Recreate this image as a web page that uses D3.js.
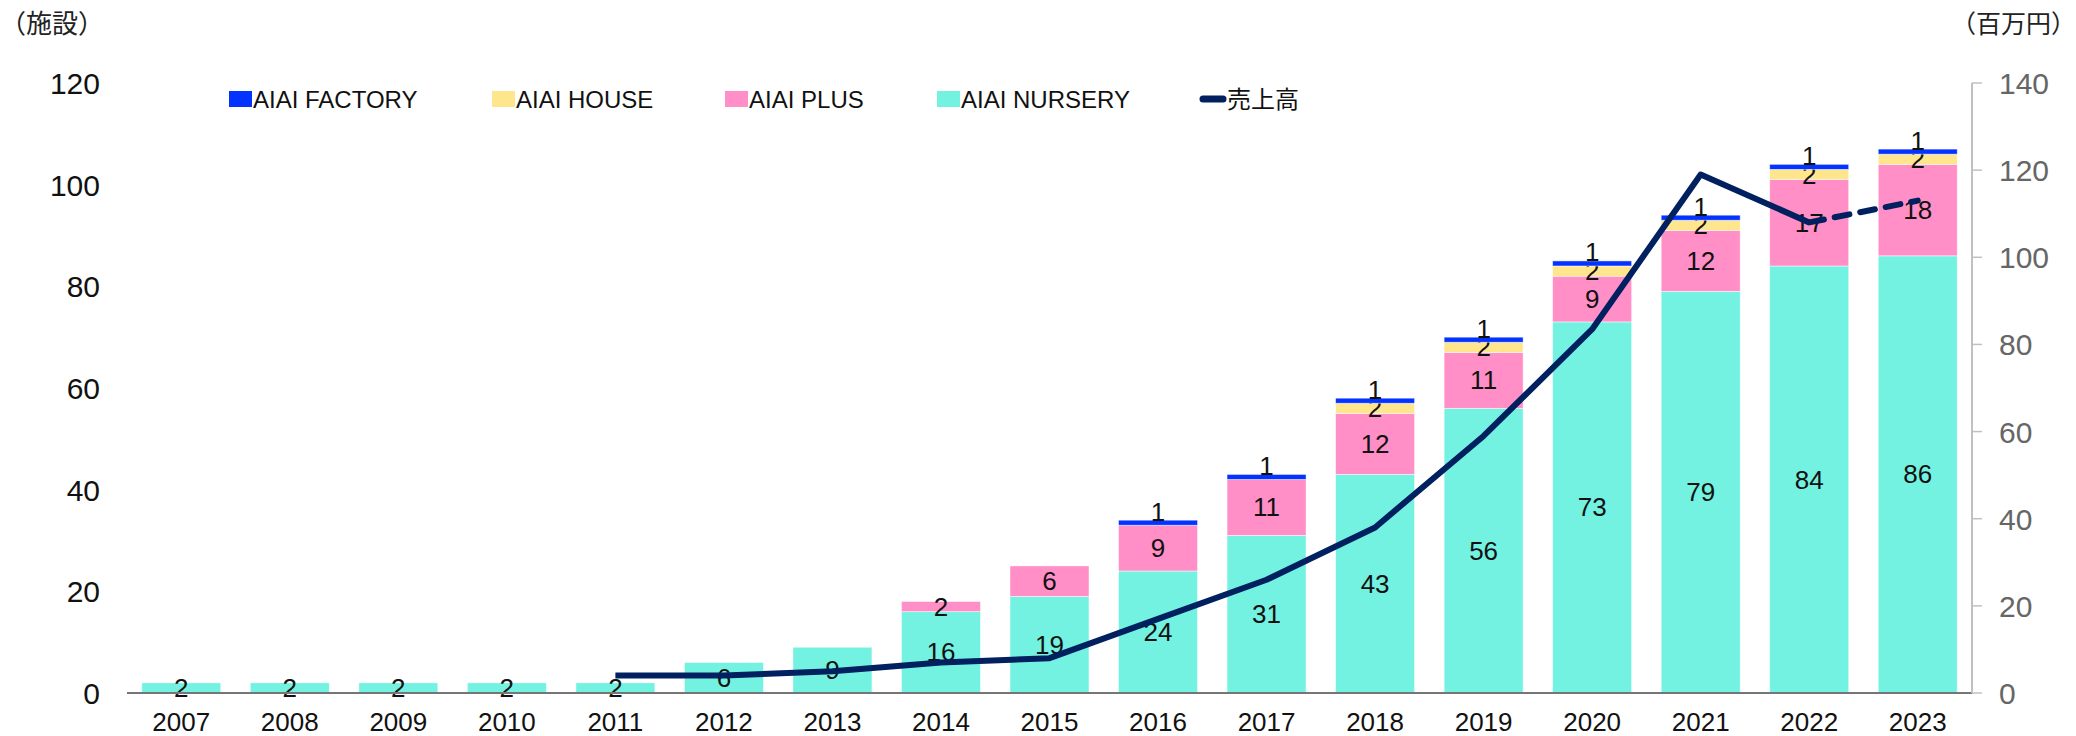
<!DOCTYPE html>
<html>
<head>
<meta charset="utf-8">
<script src="https://cdn.jsdelivr.net/npm/d3@7"></script>
<style>
  body { margin: 0; background: #fff; }
  svg text { font-family: "Liberation Sans", Arial, sans-serif; }
  .cjk { font-family: "Noto Sans CJK JP", sans-serif !important; }
</style>
</head>
<body>
<div id="chart"></div>
<script>
const years = ["2007","2008","2009","2010","2011","2012","2013","2014","2015","2016","2017","2018","2019","2020","2021","2022","2023"]
const nursery = [2,2,2,2,2,6,9,16,19,24,31,43,56,73,79,84,86]
const plus = [0,0,0,0,0,0,0,2,6,9,11,12,11,9,12,17,18]
const house = [0,0,0,0,0,0,0,0,0,0,0,2,2,2,2,2,2]
const factory = [0,0,0,0,0,0,0,0,0,1,1,1,1,1,1,1,1]
const sales = [null,null,null,null,4,4,5,7,8,17,26,38,59,83.5,119,108,113]
const leftTicks = [0,20,40,60,80,100,120]
const rightTicks = [0,20,40,60,80,100,120,140]

const series = [
    {key: "nursery", name: "AIAI NURSERY", values: nursery, color: "#73F2E2"},
    {key: "plus", name: "AIAI PLUS", values: plus, color: "#FF8FC6"},
    {key: "house", name: "AIAI HOUSE", values: house, color: "#FFE68C"},
    {key: "factory", name: "AIAI FACTORY", values: factory, color: "#0433FF"}
]
const lineColor = "#002060"

const width = 2076
const height = 736
const margin = {top: 83, left: 127, bottom: 43, right: 104}

const svg = d3.select("#chart").append("svg")
    .attr("width", width)
    .attr("height", height)

const x = d3.scaleBand()
    .domain(years)
    .range([margin.left, width - margin.right])
    .paddingInner(0.272)
    .paddingOuter(0.136)

const y = d3.scaleLinear()
    .domain([0, 120])
    .range([height - margin.bottom, margin.top])

const y2 = d3.scaleLinear()
    .domain([0, 140])
    .range([height - margin.bottom, margin.top])

const rows = years.map((yr, i) => {
    const r = {year: yr}
    series.forEach(s => r[s.key] = s.values[i])
    return r
})
const stacked = d3.stack().keys(series.map(s => s.key))(rows)

// bars
const layers = svg.append("g")
    .selectAll("g")
    .data(stacked)
    .join("g")
    .attr("fill", (d, i) => series[i].color)

layers.selectAll("rect")
    .data(d => d)
    .join("rect")
    .attr("x", d => x(d.data.year))
    .attr("y", d => y(d[1]))
    .attr("width", x.bandwidth())
    .attr("height", d => y(d[0]) - y(d[1]))
    .attr("stroke", "#fff")
    .attr("stroke-opacity", 0.6)
    .attr("stroke-width", 0.8)

// x axis line + labels
svg.append("line")
    .attr("x1", margin.left)
    .attr("x2", width - margin.right)
    .attr("y1", y(0))
    .attr("y2", y(0))
    .attr("stroke", "#767676")
    .attr("stroke-width", 2)

svg.append("g")
    .selectAll("text")
    .data(years)
    .join("text")
    .attr("x", d => x(d) + x.bandwidth() / 2)
    .attr("y", y(0) + 38)
    .attr("text-anchor", "middle")
    .style("font-size", "26px")
    .attr("fill", "#111")
    .text(d => d)

// left axis labels
svg.append("g")
    .selectAll("text")
    .data(leftTicks)
    .join("text")
    .attr("x", 100)
    .attr("y", d => y(d) + 11)
    .attr("text-anchor", "end")
    .style("font-size", "30px")
    .attr("fill", "#111")
    .text(d => d)

// right axis
const rightAxis = svg.append("g")
    .attr("transform", `translate(${width - margin.right},0)`)
rightAxis.append("line")
    .attr("y1", y2(0))
    .attr("y2", y2(140))
    .attr("stroke", "#c0c0c0")
    .attr("stroke-width", 2)
rightAxis.selectAll("line.tick")
    .data(rightTicks)
    .join("line")
    .attr("class", "tick")
    .attr("x1", 0)
    .attr("x2", 10)
    .attr("y1", d => y2(d))
    .attr("y2", d => y2(d))
    .attr("stroke", "#c0c0c0")
    .attr("stroke-width", 1.5)
rightAxis.selectAll("text")
    .data(rightTicks)
    .join("text")
    .attr("x", 27)
    .attr("y", d => y2(d) + 11)
    .style("font-size", "30px")
    .attr("fill", "#666")
    .text(d => d)

// unit labels
svg.append("text")
    .attr("class", "cjk")
    .attr("x", 0)
    .attr("y", 33)
    .style("font-size", "26px")
    .attr("fill", "#222")
    .text("（施設）")
svg.append("text")
    .attr("class", "cjk")
    .attr("x", 2076)
    .attr("y", 33)
    .attr("text-anchor", "end")
    .style("font-size", "25px")
    .attr("fill", "#222")
    .text("（百万円）")

// sales line: solid up to 2022, dashed to 2023
const salesPts = years.map((yr, i) => ({year: yr, v: sales[i]}))
const line = d3.line()
    .defined(d => d.v != null)
    .x(d => x(d.year) + x.bandwidth() / 2)
    .y(d => y2(d.v))

svg.append("path")
    .datum(salesPts.slice(0, salesPts.length - 1))
    .attr("d", line)
    .attr("fill", "none")
    .attr("stroke", lineColor)
    .attr("stroke-width", 6)
    .attr("stroke-linejoin", "round")

svg.append("path")
    .datum(salesPts.slice(salesPts.length - 2))
    .attr("d", line)
    .attr("fill", "none")
    .attr("stroke", lineColor)
    .attr("stroke-width", 6)
    .attr("stroke-dasharray", "15,11")
    .attr("stroke-linecap", "round")

// data labels
layers.each(function (layer, li) {
    d3.select(this).selectAll("text")
        .data(layer.filter(d => d[1] - d[0] > 0))
        .join("text")
        .attr("x", d => x(d.data.year) + x.bandwidth() / 2)
        .attr("y", d => y((d[0] + d[1]) / 2) + 9 - (series[li].key === "factory" ? 11 : 0))
        .attr("text-anchor", "middle")
        .style("font-size", "26px")
        .attr("fill", "#111")
        .text(d => d[1] - d[0])
})

// legend
const legendItems = [
    {name: "AIAI FACTORY", color: series[3].color, x: 229},
    {name: "AIAI HOUSE", color: series[2].color, x: 492},
    {name: "AIAI PLUS", color: series[1].color, x: 725},
    {name: "AIAI NURSERY", color: series[0].color, x: 937}
]
const legend = svg.append("g")
legend.selectAll("rect")
    .data(legendItems)
    .join("rect")
    .attr("x", d => d.x)
    .attr("y", 91)
    .attr("width", 23)
    .attr("height", 16)
    .attr("fill", d => d.color)
legend.selectAll("text")
    .data(legendItems)
    .join("text")
    .attr("x", d => d.x + 24)
    .attr("y", 108)
    .style("font-size", "24px")
    .attr("fill", "#111")
    .text(d => d.name)

legend.append("line")
    .attr("x1", 1203)
    .attr("x2", 1223)
    .attr("y1", 99)
    .attr("y2", 99)
    .attr("stroke", lineColor)
    .attr("stroke-width", 7)
    .attr("stroke-linecap", "round")
legend.append("text")
    .attr("class", "cjk")
    .attr("x", 1227)
    .attr("y", 108)
    .style("font-size", "24px")
    .attr("fill", "#111")
    .text("売上高")
</script>
</body>
</html>
